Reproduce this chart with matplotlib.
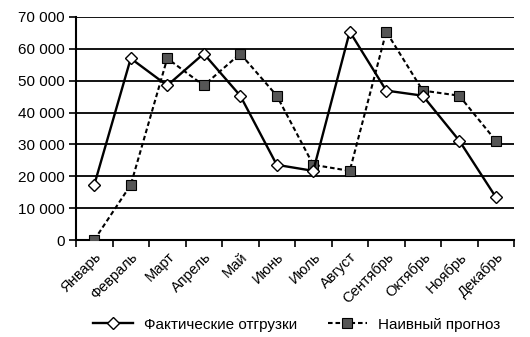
import matplotlib
matplotlib.use("Agg")
import matplotlib.pyplot as plt
from matplotlib.ticker import FuncFormatter
import numpy as np

plt.rcParams['font.family'] = ['Liberation Sans', 'DejaVu Sans']

months = ["Январь", "Февраль", "Март", "Апрель", "Май", "Июнь",
          "Июль", "Август", "Сентябрь", "Октябрь", "Ноябрь", "Декабрь"]
actual = [17300, 57000, 48500, 58500, 45300, 23600,
          21700, 65400, 46900, 45300, 31200, 13500]
naive = [0, 17300, 57000, 48500, 58500, 45300,
         23600, 21700, 65400, 46900, 45300, 31200]
yticks = [0, 10000, 20000, 30000, 40000, 50000, 60000, 70000]

fig = plt.figure(figsize=(5.30, 3.37), dpi=100)
ax = fig.add_axes([76/530, 1-240/337, (514-76)/530, (240-17)/337])

x = np.arange(len(months))
ax.plot(x, actual, color='black', lw=1.7, marker='D', ms=6.5,
        mfc='white', mec='black', mew=1.0, label='Фактические отгрузки', zorder=4)
ax.plot(x, naive, color='black', lw=1.5, ls=(0, (2.2, 1.4)), marker='s', ms=7,
        mfc='#555555', mec='black', mew=0.8, label='Наивный прогноз', zorder=3)

ax.set_xlim(-0.5, len(months) - 0.5)
ax.set_ylim(0, 70000)
ax.set_yticks(yticks)
ax.yaxis.set_major_formatter(FuncFormatter(lambda v, p: f"{int(v):,}".replace(",", " ")))
for v in yticks[1:]:
    ax.axhline(v, color='black', lw=1.3, zorder=1)

ax.set_xticks(x)
ax.set_xticklabels(months, rotation=45, ha='right', rotation_mode='anchor', fontsize=10.5)
ax.set_xticks(np.arange(-0.5, len(months)), minor=True)
ax.tick_params(axis='x', which='major', length=0, pad=7)
ax.tick_params(axis='x', which='minor', length=5, width=1.2, direction='out')
ax.tick_params(axis='y', length=5, width=1.2, labelsize=11, pad=3)

for s in ['top', 'right']:
    ax.spines[s].set_visible(False)
for s in ['left', 'bottom']:
    ax.spines[s].set_linewidth(1.5)
    ax.spines[s].set_color('black')

leg = fig.legend(loc='lower center', bbox_to_anchor=(0.56, -0.025), ncol=2, frameon=False,
                 fontsize=11, handlelength=2.6, columnspacing=2.0, handletextpad=0.7)

fig.savefig("out.png", dpi=100)
